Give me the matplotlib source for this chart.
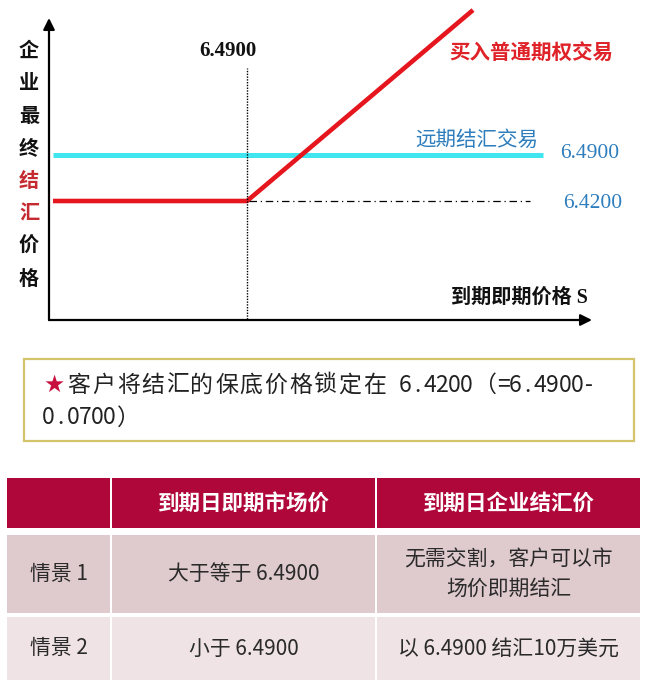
import matplotlib
matplotlib.use("Agg")
import matplotlib.pyplot as plt
from matplotlib.patches import Rectangle

plt.rcParams['font.family'] = ['Noto Sans CJK SC', 'DejaVu Sans']

# ---- data ----
strike = 6.49        # 执行价 / 远期价
premium = 0.07       # 期权费
floor_price = strike - premium   # 6.42

# 到期即期价格 S 的取值（图上左端、拐点、右端）
spot_pts = [6.2405, strike, 6.7806]
option_vals = [max(s, strike) - premium for s in spot_pts]
forward_span = [6.2405, 6.8707]
floor_span = [strike + 0.002, 6.854]

y_label_chars = ['企', '业', '最', '终', '结', '汇', '价', '格']
y_label_red = ['结', '汇']

note_lines = ['★客户将结汇的保底价格锁定在 6.4200（=6.4900-', '0.0700）']

table_header = ['', '到期日即期市场价', '到期日企业结汇价']
table_rows = [
    ['情景 1', '大于等于 6.4900', '无需交割，客户可以市\n场价即期结汇'],
    ['情景 2', '小于 6.4900', '以 6.4900 结汇10万美元'],
]

W, H = 649, 693
fig = plt.figure(figsize=(W / 100, H / 100), dpi=100)


def fx(x):
    return x / W


def fy(y):
    return 1 - y / H


# ---- payoff chart ----
ax_l, ax_r, ax_t, ax_b = 49, 592, 5, 320
ax = fig.add_axes([fx(ax_l), fy(ax_b), (ax_r - ax_l) / W, (ax_b - ax_t) / H])
ax.set_xlim(6.2354, 6.9336)
ax.set_ylim(6.2389, 6.7183)
ax.axis('off')

ax.plot(forward_span, [strike, strike], color='#3fe6ef', lw=3.6, solid_capstyle='butt')
ax.plot(spot_pts, option_vals, color='#e5161d', lw=3.3, solid_capstyle='butt')
ax.plot(floor_span, [floor_price, floor_price], color='black', lw=0.9,
        ls=(0, (6, 3, 1, 3)))
ax.plot([strike, strike], [6.241, 6.6224], color='black', lw=1.0, ls=(0, (1.0, 1.0)))

# axes with arrows
ax.annotate('', xy=(0, (ax_b - 18) / (ax_b - ax_t)), xytext=(0, 0),
            xycoords='axes fraction',
            arrowprops=dict(arrowstyle='-|>', color='black', lw=1.6,
                            mutation_scale=17, shrinkA=0, shrinkB=0))
ax.annotate('', xy=(1, 0), xytext=(0, 0), xycoords='axes fraction',
            arrowprops=dict(arrowstyle='-|>', color='black', lw=1.6,
                            mutation_scale=17, shrinkA=0, shrinkB=0))

serif = ['Liberation Serif', 'Noto Sans CJK SC']
fig.text(fx(228), fy(51), '6.4900', family=serif, weight='bold', fontsize=15,
         ha='center', va='center', color='#111111')
fig.text(fx(590), fy(153), '6.4900', family=serif, fontsize=15.5,
         ha='center', va='center', color='#2e7dbd')
fig.text(fx(593), fy(204), '6.4200', family=serif, fontsize=15.5,
         ha='center', va='center', color='#2e7dbd')
fig.text(fx(538), fy(140), '远期结汇交易', fontsize=14.8, ha='right', va='center',
         color='#2e7dbd')
fig.text(fx(613), fy(52), '买入普通期权交易', fontsize=14.8, ha='right', va='center',
         color='#df2228', weight='bold')
fig.text(fx(588), fy(298), '到期即期价格 S', family=serif, fontsize=14.5,
         weight='bold', ha='right', va='center', color='#111111')

for i, ch in enumerate(y_label_chars):
    c = '#c42a30' if ch in y_label_red else '#111111'
    fig.text(fx(29), fy(50 + i * 32.6), ch, fontsize=14.5, weight='bold',
             ha='center', va='center', color=c)

# ---- overlay for note box and table (pixel coordinates) ----
ov = fig.add_axes([0, 0, 1, 1], zorder=-1)
ov.set_xlim(0, W)
ov.set_ylim(H, 0)
ov.axis('off')

ov.add_patch(Rectangle((24, 359), 610, 82, fill=False, edgecolor='#d3c46c', lw=1.6))

# 宋体式等宽排版：全角字 1 em，半角字 0.5 em
em = 24.6
for line, ypix in zip(note_lines, [385, 418]):
    x = 42
    for ch in line:
        adv = em * (0.5 if ord(ch) < 128 else 1.0)
        if ch != ' ':
            if ch == '★':
                fig.text(fx(x + adv / 2), fy(ypix), ch, fontsize=17, color='#c8103f',
                         ha='center', va='center', family=['DejaVu Sans'])
            else:
                fig.text(fx(x + adv / 2), fy(ypix), ch, fontsize=16.5, color='#222222',
                         ha='center', va='center')
        x += adv

col_edges = [(7, 110), (112, 375), (377, 640)]
row_edges = [(478, 528), (535, 613), (617, 680)]
row_colors = ['#b0073a', '#dfcace', '#efe3e6']

for r, (y0, y1) in enumerate(row_edges):
    cells = table_header if r == 0 else table_rows[r - 1]
    for c, (x0, x1) in enumerate(col_edges):
        ov.add_patch(Rectangle((x0, y0), x1 - x0, y1 - y0, facecolor=row_colors[r],
                               edgecolor='none'))
        if cells[c]:
            if r == 0:
                fig.text(fx((x0 + x1) / 2), fy((y0 + y1) / 2), cells[c], fontsize=15.5,
                         weight='bold', color='white', ha='center', va='center')
            else:
                fig.text(fx((x0 + x1) / 2), fy((y0 + y1) / 2), cells[c], fontsize=15,
                         color='#2a2a2a', ha='center', va='center', linespacing=1.4)

fig.savefig('out.png', dpi=100)
